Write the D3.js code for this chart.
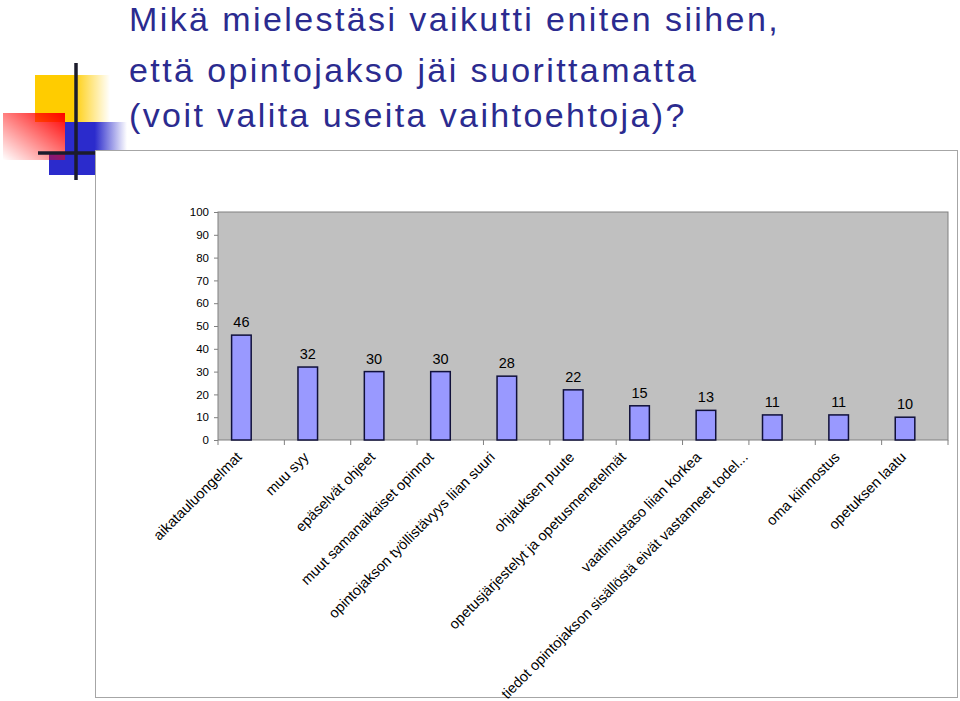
<!DOCTYPE html>
<html><head><meta charset="utf-8">
<script src="https://cdn.jsdelivr.net/npm/d3@7/dist/d3.min.js"></script>
<style>
html,body{margin:0;padding:0;background:#fff;}
svg{display:block;font-family:"Liberation Sans",Arial,sans-serif;}
</style></head>
<body>
<script>
const titleLines = ["Mikä mielestäsi vaikutti eniten siihen,", "että opintojakso jäi suorittamatta", "(voit valita useita vaihtoehtoja)?"];
const categories = [
  "aikatauluongelmat",
  "muu syy",
  "epäselvät ohjeet",
  "muut samanaikaiset opinnot",
  "opintojakson työllistävyys liian suuri",
  "ohjauksen puute",
  "opetusjärjestelyt ja opetusmenetelmät",
  "vaatimustaso liian korkea",
  "tiedot opintojakson sisällöstä eivät vastanneet todel...",
  "oma kiinnostus",
  "opetuksen laatu"
];
const values = [46, 32, 30, 30, 28, 22, 15, 13, 11, 11, 10];
const yTicks = [0, 10, 20, 30, 40, 50, 60, 70, 80, 90, 100];

const W = 960, H = 701;
const svg = d3.select("body").append("svg").attr("width", W).attr("height", H);
const defs = svg.append("defs");

// logo gradients
function hgrad(id, color, stop) {
  const g = defs.append("linearGradient").attr("id", id).attr("x1", "0").attr("x2", "1").attr("y1", "0").attr("y2", "0");
  g.append("stop").attr("offset", "0").attr("stop-color", color);
  g.append("stop").attr("offset", stop).attr("stop-color", color);
  g.append("stop").attr("offset", "1").attr("stop-color", color).attr("stop-opacity", 0);
}
hgrad("gy", "#ffcc00", 0.5);
hgrad("gb", "#2b2bcc", 0.48);
const gr = defs.append("linearGradient").attr("id", "gr").attr("x1", "1").attr("y1", "0").attr("x2", "0").attr("y2", "1");
gr.append("stop").attr("offset", "0").attr("stop-color", "#ff0000");
gr.append("stop").attr("offset", "1").attr("stop-color", "#ff0000").attr("stop-opacity", 0);

const logo = svg.append("g");
logo.append("rect").attr("x", 35).attr("y", 75).attr("width", 75).attr("height", 47).attr("fill", "url(#gy)");
logo.append("rect").attr("x", 65).attr("y", 122).attr("width", 62).attr("height", 30).attr("fill", "url(#gb)");
logo.append("rect").attr("x", 49).attr("y", 152).attr("width", 46).attr("height", 23).attr("fill", "#2b2bcc");
logo.append("rect").attr("x", 3).attr("y", 113).attr("width", 62).attr("height", 47).attr("fill", "url(#gr)");
logo.append("line").attr("x1", 76).attr("x2", 76).attr("y1", 63).attr("y2", 180).attr("stroke", "#1c1c2c").attr("stroke-width", 3.5);
logo.append("line").attr("x1", 38).attr("x2", 95).attr("y1", 153).attr("y2", 153).attr("stroke", "#1c1c2c").attr("stroke-width", 3.5);

// title
const titleY = [31, 82, 127];
svg.append("g").selectAll("text").data(titleLines).join("text")
  .attr("x", 129).attr("y", (d, i) => titleY[i])
  .attr("font-size", 34).attr("letter-spacing", 2.4).attr("fill", "#2b2b8f")
  .text(d => d);

// frame
svg.append("rect").attr("x", 95.5).attr("y", 150.5).attr("width", 862).attr("height", 547)
  .attr("fill", "#fff").attr("stroke", "#a6a6a6").attr("stroke-width", 1);

const x = d3.scaleBand().domain(categories).range([218, 948]);
const y = d3.scaleLinear().domain([0, 100]).range([440, 212]);
const bw = x.bandwidth();
const barW = bw * 0.295;
const barX = c => x(c) + bw / 2 - barW;
const barC = c => x(c) + bw / 2 - barW / 2;

// plot area
svg.append("rect").attr("x", 218).attr("y", y(100)).attr("width", 730).attr("height", y(0) - y(100))
  .attr("fill", "#c0c0c0").attr("stroke", "#808080").attr("stroke-width", 1);

// y axis
const ya = svg.append("g").attr("transform", "translate(218,0)")
  .call(d3.axisLeft(y).tickValues(yTicks).tickSize(4).tickPadding(5));
ya.select(".domain").remove();
ya.selectAll(".tick line").attr("stroke", "#808080");
ya.selectAll(".tick text").attr("font-size", 11.5).attr("fill", "#000")
  .attr("font-family", "Liberation Sans, Arial, sans-serif");

// x ticks at band boundaries
const bounds = categories.map(c => x(c)).concat([x.range()[1]]);
svg.append("g").selectAll("line").data(bounds).join("line")
  .attr("x1", d => d).attr("x2", d => d).attr("y1", y(0)).attr("y2", y(0) + 5)
  .attr("stroke", "#808080");

// bars
const data = categories.map((c, i) => ({c, v: values[i]}));
svg.append("g").selectAll("rect").data(data).join("rect")
  .attr("x", d => barX(d.c)).attr("y", d => y(d.v))
  .attr("width", barW).attr("height", d => y(0) - y(d.v))
  .attr("fill", "#9999ff").attr("stroke", "#10103a").attr("stroke-width", 1.5);

// value labels
svg.append("g").selectAll("text").data(data).join("text")
  .attr("x", d => barC(d.c)).attr("y", d => y(d.v) - 8)
  .attr("text-anchor", "middle").attr("font-size", 14.5).attr("fill", "#000")
  .text(d => d.v);

// category labels
const lab = svg.append("g").selectAll("text").data(data).join("text")
  .attr("font-size", 14.5).attr("fill", "#000").attr("text-anchor", "end")
  .text(d => d.c);
lab.each(function (d) {
  const w = this.getComputedTextLength();
  const shift = -Math.max(0, w - 110) * 0.11;
  const ax = barC(d.c) + 2 + shift, ay = y(0) + 18;
  d3.select(this).attr("transform", `translate(${ax},${ay}) rotate(-45)`);
});
</script>
</body></html>
